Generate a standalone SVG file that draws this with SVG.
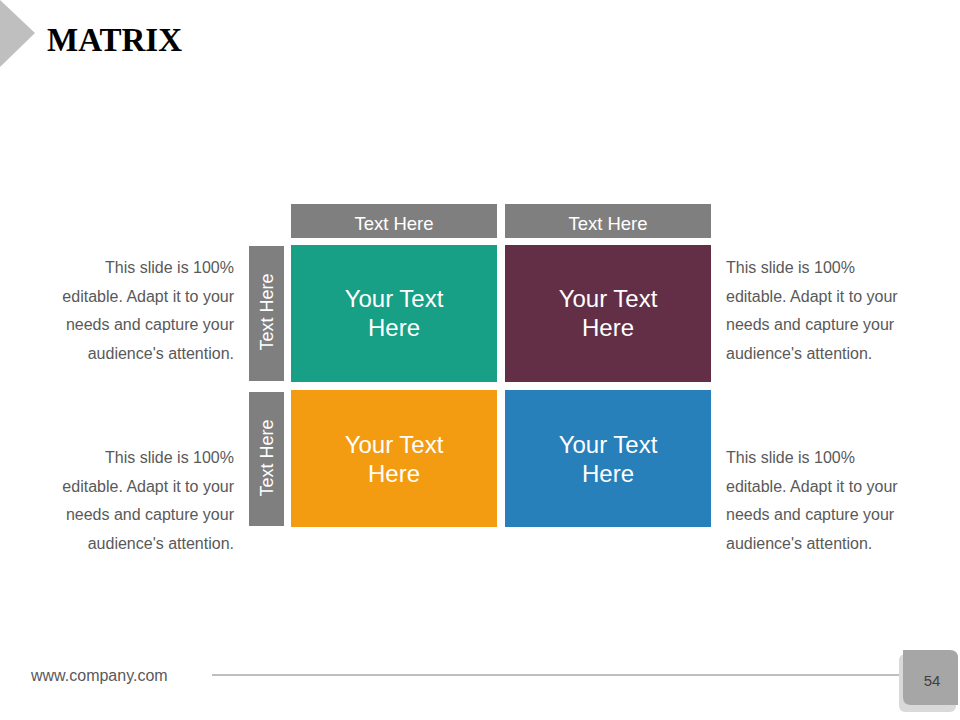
<svg xmlns="http://www.w3.org/2000/svg" width="960" height="720" viewBox="0 0 960 720">
<style>
.hdr{fill:#7F7F7F}
.ht{font-family:"Liberation Sans",Arial,sans-serif;font-size:18.5px;fill:#FFFFFF;text-anchor:middle}
.vt{font-family:"Liberation Sans",Arial,sans-serif;font-size:18px;fill:#FFFFFF;text-anchor:middle}
.ct{font-family:"Liberation Sans",Arial,sans-serif;font-size:24px;fill:#FFFFFF;text-anchor:middle}
.pl{font-family:"Liberation Sans",Arial,sans-serif;font-size:16px;fill:#595959;text-anchor:end}
.pr{font-family:"Liberation Sans",Arial,sans-serif;font-size:16px;fill:#595959;text-anchor:start}
</style>
<rect width="960" height="720" fill="#FFFFFF"/>
<g id="title">
<polygon points="0,0 35,33 0,67" fill="#BFBFBF"/>
<text x="47" y="51" font-family="'Liberation Serif','Times New Roman',serif" font-size="33" font-weight="bold" fill="#000000">MATRIX</text>
</g>
<g id="header-1"><rect class="hdr" x="291" y="204" width="206" height="34"/><text class="ht" x="394" y="230">Text Here</text></g>
<g id="header-2"><rect class="hdr" x="505" y="204" width="206" height="34"/><text class="ht" x="608" y="230">Text Here</text></g>
<g id="row-1"><rect class="hdr" x="249" y="246" width="35" height="135"/><text class="vt" transform="translate(273,312) rotate(-90)">Text Here</text></g>
<g id="row-2"><rect class="hdr" x="249" y="392" width="35" height="134"/><text class="vt" transform="translate(273,458) rotate(-90)">Text Here</text></g>
<g id="cell-tl"><rect x="291" y="245" width="206" height="137" fill="#17A085"/><text class="ct" x="394" y="307">Your Text</text><text class="ct" x="394" y="336">Here</text></g>
<g id="cell-tr"><rect x="505" y="245" width="206" height="137" fill="#622F47"/><text class="ct" x="608" y="307">Your Text</text><text class="ct" x="608" y="336">Here</text></g>
<g id="cell-bl"><rect x="291" y="390" width="206" height="137" fill="#F39C12"/><text class="ct" x="394" y="453">Your Text</text><text class="ct" x="394" y="482">Here</text></g>
<g id="cell-br"><rect x="505" y="390" width="206" height="137" fill="#2780B9"/><text class="ct" x="608" y="453">Your Text</text><text class="ct" x="608" y="482">Here</text></g>
<g id="text-tl"><text class="pl" x="234" y="273">This slide is 100%</text><text class="pl" x="234" y="302">editable. Adapt it to your</text><text class="pl" x="234" y="330">needs and capture your</text><text class="pl" x="234" y="359">audience's attention.</text></g>
<g id="text-tr"><text class="pr" x="726" y="273">This slide is 100%</text><text class="pr" x="726" y="302">editable. Adapt it to your</text><text class="pr" x="726" y="330">needs and capture your</text><text class="pr" x="726" y="359">audience's attention.</text></g>
<g id="text-bl"><text class="pl" x="234" y="463">This slide is 100%</text><text class="pl" x="234" y="492">editable. Adapt it to your</text><text class="pl" x="234" y="520">needs and capture your</text><text class="pl" x="234" y="549">audience's attention.</text></g>
<g id="text-br"><text class="pr" x="726" y="463">This slide is 100%</text><text class="pr" x="726" y="492">editable. Adapt it to your</text><text class="pr" x="726" y="520">needs and capture your</text><text class="pr" x="726" y="549">audience's attention.</text></g>
<g id="footer">
<text x="31" y="681" font-family="'Liberation Sans',Arial,sans-serif" font-size="16" fill="#595959">www.company.com</text>
<line x1="212" y1="675" x2="902" y2="675" stroke="#BFBFBF" stroke-width="2"/>
<rect x="899" y="654" width="57" height="58" rx="6" fill="#D9D9D9"/>
<path d="M903,650 H950 Q958,650 958,658 V705 H911 Q903,705 903,697 Z" fill="#A6A6A6"/>
<text x="932" y="686" font-family="'Liberation Sans',Arial,sans-serif" font-size="15" fill="#404040" text-anchor="middle">54</text>
</g>
</svg>
